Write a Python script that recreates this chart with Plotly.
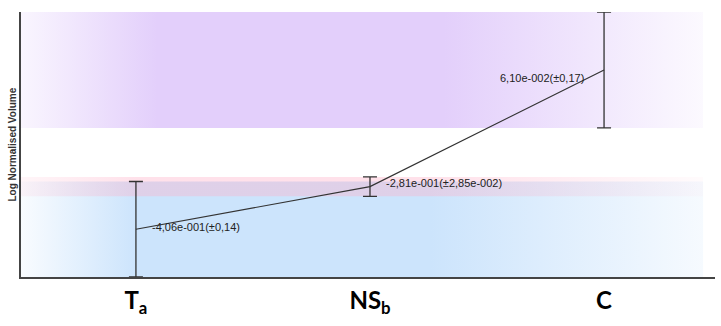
import plotly.graph_objects as go

# Group means of log-normalised volume with their uncertainties
groups = ["T<sub>a</sub>", "NS<sub>b</sub>", "C"]
means = [-0.406, -0.281, 0.061]
errors = [0.14, 0.0285, 0.17]
value_labels = ["-4,06e-001(±0,14)", "-2,81e-001(±2,85e-002)", "6,10e-002(±0,17)"]

# Band fill colours (one per group), drawn as horizontal gradients
band_rgb = [(204, 228, 252), (255, 176, 200), (227, 207, 251)]
band_alpha = [
    [(0.0, 0.12), (0.17, 1.0), (0.6, 1.0), (1.0, 0.18)],
    [(0.0, 0.12), (0.17, 0.38), (0.6, 0.38), (1.0, 0.05)],
    [(0.0, 0.2), (0.2, 1.0), (0.62, 1.0), (1.0, 0.12)],
]

x_pos = list(range(len(groups)))
x_lo, x_hi = -0.491, 2.474
band_right = 2.423

fig = go.Figure()

# Shaded uncertainty bands spanning the full width, one per group
# (draw order: C, T, NS so the narrow NS band sits on top)
for i in [2, 0, 1]:
    lo = means[i] - errors[i]
    hi = means[i] + errors[i]
    r, g, b = band_rgb[i]
    scale = [[p, f"rgba({r},{g},{b},{a})"] for p, a in band_alpha[i]]
    fig.add_trace(go.Scatter(
        x=[x_lo, band_right, band_right, x_lo, x_lo],
        y=[lo, lo, hi, hi, lo],
        mode="lines",
        line=dict(width=0),
        fill="toself",
        fillgradient=dict(type="horizontal", colorscale=scale),
        hoverinfo="skip",
        showlegend=False,
    ))

# Mean line with error bars
fig.add_trace(go.Scatter(
    x=x_pos,
    y=means,
    mode="lines",
    line=dict(color="#333333", width=1.2),
    error_y=dict(type="data", array=errors, visible=True,
                 color="#333333", thickness=1.3, width=7),
    cliponaxis=False,
    showlegend=False,
))

label_font = dict(family="Liberation Sans, Arial, sans-serif", size=11, color="#222222")
offsets = [(14, 2, "left"), (14, 4, "left"), (-18, -8, "right")]
for i, txt in enumerate(value_labels):
    dx, dy, anchor = offsets[i]
    fig.add_annotation(x=x_pos[i], y=means[i], xref="x", yref="y", text=txt,
                       showarrow=False, xanchor=anchor, yanchor="middle",
                       xshift=dx, yshift=dy, font=label_font)

fig.add_annotation(text="<b>Log Normalised Volume</b>", xref="paper", yref="paper",
                   x=0, y=0.5, xshift=-9, xanchor="center", yanchor="middle",
                   textangle=-90, showarrow=False,
                   font=dict(family="Liberation Sans, Arial, sans-serif", size=10, color="#333333"))

fig.update_layout(
    width=721, height=326,
    margin=dict(l=21, r=6, t=12, b=49),
    paper_bgcolor="white",
    plot_bgcolor="white",
    xaxis=dict(range=[x_lo, x_hi], tickvals=x_pos, ticktext=groups,
               showgrid=False, zeroline=False, showline=True,
               linecolor="#444444", linewidth=1.5, ticks="",
               tickfont=dict(family="Lato, sans-serif", size=24, color="black",
                             weight="bold"),
               ticklabelstandoff=1),
    yaxis=dict(range=[-0.546, 0.231], showgrid=False, zeroline=False,
               showline=True, linecolor="#444444", linewidth=1.5,
               showticklabels=False, ticks=""),
)

fig.write_html("out.html")
